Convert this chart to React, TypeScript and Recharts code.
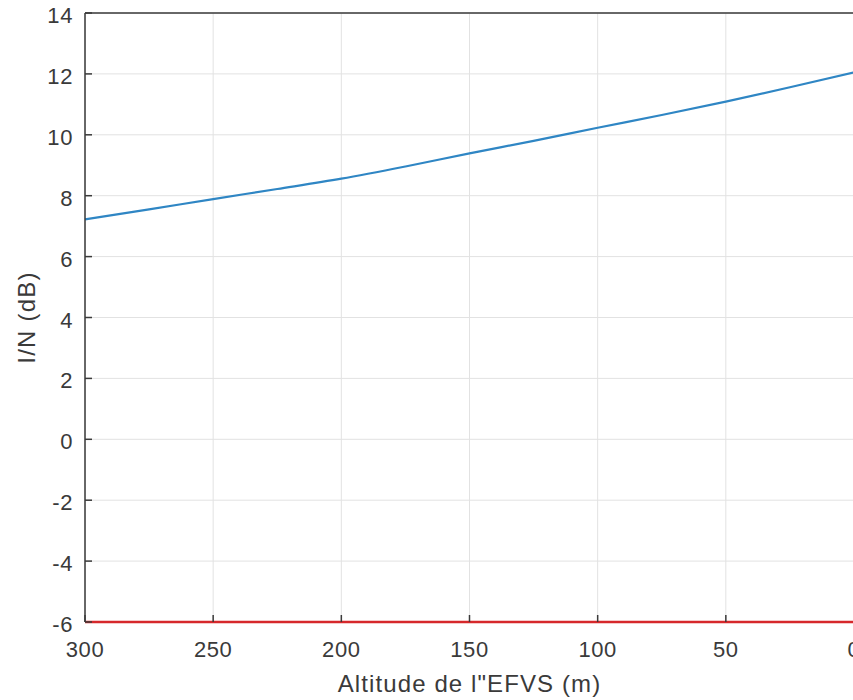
import { LineChart, Line, XAxis, YAxis, CartesianGrid, ReferenceLine } from 'recharts';

const altitudes = [300, 275, 250, 225, 200, 175, 150, 125, 100, 75, 50, 25, 0];
const inValues = [7.22, 7.55, 7.89, 8.22, 8.56, 8.96, 9.39, 9.8, 10.23, 10.65, 11.09, 11.56, 12.05];
const thresholdValues = [-6, -6, -6, -6, -6, -6, -6, -6, -6, -6, -6, -6, -6];

const xTicks = [300, 250, 200, 150, 100, 50, 0];
const yTicks = [-6, -4, -2, 0, 2, 4, 6, 8, 10, 12, 14];

const data = altitudes.map((alt, i) => ({
  alt,
  ratio: inValues[i],
  threshold: thresholdValues[i],
}));

const axisColor = '#3a3a3a';
const textColor = '#3a3a3a';
const font = 'Liberation Sans, Arial, sans-serif';

const X_MARGIN = 20;
const Y_MARGIN = 12;

function BottomTick(props: any) {
  const { x, y, payload } = props;
  const axisY = y - X_MARGIN;
  return (
    <g>
      <line x1={x} x2={x} y1={axisY} y2={axisY - 7} stroke={axisColor} strokeWidth={1.5} />
      <text x={x} y={y} dy={15} textAnchor="middle" fill={textColor} fontSize={22} fontFamily={font} letterSpacing={0.6}>
        {payload.value}
      </text>
    </g>
  );
}

function TopTick(props: any) {
  const { x, y } = props;
  return <line x1={x} x2={x} y1={y} y2={y + 7} stroke={axisColor} strokeWidth={1.5} />;
}

function LeftTick(props: any) {
  const { x, y, payload } = props;
  const axisX = x + Y_MARGIN;
  return (
    <g>
      <line x1={axisX} x2={axisX + 7} y1={y} y2={y} stroke={axisColor} strokeWidth={1.5} />
      <text x={x} y={y} dy={10} textAnchor="end" fill={textColor} fontSize={22} fontFamily={font} letterSpacing={0.6}>
        {payload.value}
      </text>
    </g>
  );
}

export default function App() {
  // fixed to the window corner so the plot can run off the right edge like the original
  return (
    <div style={{ position: 'fixed', left: 0, top: 0, width: 853, height: 700, overflow: 'hidden', background: '#fff' }}>
      <LineChart width={874} height={700} data={data} margin={{ top: 13, right: 20, bottom: 0, left: 0 }}>
        <CartesianGrid stroke="#e2e2e2" strokeWidth={1} />
        <XAxis
          dataKey="alt"
          type="number"
          domain={[0, 300]}
          ticks={xTicks}
          reversed
          height={78}
          tickSize={0}
          tickMargin={X_MARGIN}
          tick={<BottomTick />}
          axisLine={false}
          label={{
            value: 'Altitude de l"EFVS (m)',
            position: 'insideBottom',
            offset: 8,
            style: { fill: textColor, fontSize: 24, fontFamily: font, letterSpacing: 1.1, textAnchor: 'middle' },
          }}
        />
        <XAxis
          xAxisId="top"
          orientation="top"
          dataKey="alt"
          type="number"
          domain={[0, 300]}
          ticks={xTicks}
          reversed
          height={0}
          tickSize={0}
          tickMargin={0}
          tick={<TopTick />}
          axisLine={{ stroke: axisColor, strokeWidth: 1.5 }}
        />
        <YAxis
          type="number"
          domain={[-6, 14]}
          ticks={yTicks}
          width={85}
          tickSize={0}
          tickMargin={Y_MARGIN}
          tick={<LeftTick />}
          axisLine={{ stroke: axisColor, strokeWidth: 1.5 }}
          label={{
            value: 'I/N (dB)',
            angle: -90,
            position: 'insideLeft',
            offset: 26,
            style: { fill: textColor, fontSize: 24, fontFamily: font, letterSpacing: 1.2, textAnchor: 'middle' },
          }}
        />
        <ReferenceLine y={14} stroke={axisColor} strokeWidth={1.5} />
        <Line
          dataKey="ratio"
          type="monotone"
          stroke="#2f86c4"
          strokeWidth={2.2}
          dot={false}
          isAnimationActive={false}
        />
        <Line
          dataKey="threshold"
          type="linear"
          stroke="#d6282b"
          strokeWidth={2.5}
          dot={false}
          isAnimationActive={false}
        />
      </LineChart>
    </div>
  );
}
